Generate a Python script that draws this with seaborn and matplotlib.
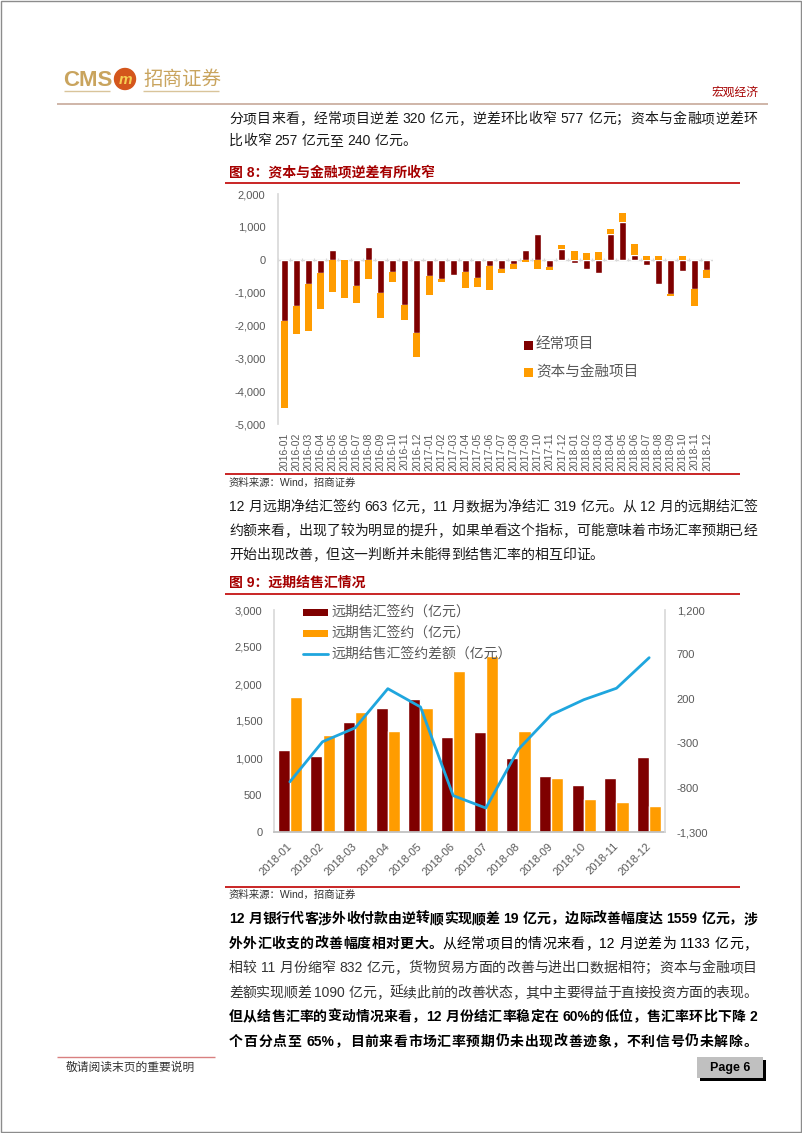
"""
plot.py
=======
Page 6 of the CMS macro report: balance-of-payments stacked bars (fig 8)
and forward FX settlement / sale bars with net line (fig 9).
"""

import re

import matplotlib
matplotlib.use("Agg")
import matplotlib.pyplot as plt
from matplotlib.patches import Circle, Rectangle
import numpy as np
import pandas as pd
import seaborn as sns

W, H = 802, 1133

# ---- data: figure 8 (亿元) ----
months_bop = [
    "2016-01", "2016-02", "2016-03", "2016-04", "2016-05", "2016-06",
    "2016-07", "2016-08", "2016-09", "2016-10", "2016-11", "2016-12",
    "2017-01", "2017-02", "2017-03", "2017-04", "2017-05", "2017-06",
    "2017-07", "2017-08", "2017-09", "2017-10", "2017-11", "2017-12",
    "2018-01", "2018-02", "2018-03", "2018-04", "2018-05", "2018-06",
    "2018-07", "2018-08", "2018-09", "2018-10", "2018-11", "2018-12",
]
current_account = [
    -1870, -1414, -727, -404, 303, 10, -788, 384, -1020, -384, -1364, -2242,
    -505, -576, -455, -384, -556, -182, -283, -121, 303, 778, -222, 323,
    -101, -283, -404, 768, 1152, 131, -162, -748, -1040, -354, -897, -320,
]
capital_financial = [
    -2655, -859, -1445, -1081, -980, -1150, -515, -586, -748, -283, -475, -718,
    -556, -101, 0, -485, -283, -727, -121, -152, -81, -283, -81, 121,
    263, 202, 242, 152, 273, 333, 121, 111, -51, 101, -497, -240,
]
bop_ticks = [2000, 1000, 0, -1000, -2000, -3000, -4000, -5000]

# ---- data: figure 9 (亿元) ----
months_fx = [
    "2018-01", "2018-02", "2018-03", "2018-04", "2018-05", "2018-06",
    "2018-07", "2018-08", "2018-09", "2018-10", "2018-11", "2018-12",
]
fx_settle = [1104, 1027, 1491, 1680, 1793, 1284, 1351, 1000, 752, 635, 725, 1014]
fx_sale = [1829, 1311, 1617, 1365, 1680, 2171, 2378, 1369, 734, 446, 405, 351]
fx_net = [-735, -284, -127, 314, 108, -890, -1030, -368, 19, 190, 319, 663]
fx_left_ticks = [0, 500, 1000, 1500, 2000, 2500, 3000]
fx_right_ticks = [-1300, -800, -300, 200, 700, 1200]

# ---- colours ----
DARK = "#7f0000"
ORANGE = "#ff9c00"
BLUE = "#1fa6de"
GRAY = "#595959"
RED_LINE = "#c00000"
TITLE_RED = "#a50000"
GOLD = "#c9a45e"
TEXT = "#1a1a1a"

sns.set_theme(style="white")
plt.rcParams["font.family"] = ["Liberation Sans", "Noto Sans CJK SC", "DejaVu Sans"]
plt.rcParams["axes.unicode_minus"] = False

fig = plt.figure(figsize=(W / 100, H / 100), dpi=100)
fig.patch.set_facecolor("white")
renderer = fig.canvas.get_renderer()


def px_axes(left, top, right, bottom):
    return fig.add_axes([left / W, 1 - bottom / H, (right - left) / W, (bottom - top) / H])


# overlay for page furniture and text
page = fig.add_axes([0, 0, 1, 1], zorder=5)
page.set_xlim(0, W)
page.set_ylim(H, 0)
page.axis("off")

TOKEN = re.compile(r"[A-Za-z0-9%.]+|.")


def draw_line(segments, y, x0=229, x1=757, justify=True, size=10, color=TEXT):
    """Lay a line out token by token, spreading the slack so it fills x0..x1."""
    items = []
    for text, weight in segments:
        for tok in TOKEN.findall(text):
            if tok.isspace():
                items.append((None, 0.28 * size * 100 / 72))
                continue
            t = page.text(0, y, tok, fontsize=size, fontweight=weight,
                          va="center", ha="left", color=color)
            items.append((t, t.get_window_extent(renderer).width))
    total = sum(w for _, w in items)
    gap = (x1 - x0 - total) / (len(items) - 1) if justify and len(items) > 1 else 0
    x = x0
    for t, w in items:
        if t is not None:
            t.set_x(x)
        x += w + gap


def hline(y, x0, x1, color, lw=1.0):
    page.plot([x0, x1], [y, y], color=color, lw=lw, solid_capstyle="butt")


# ---- page frame / header ----
page.add_patch(Rectangle((0.5, 0.5), W - 1.5, H - 1.5, fill=False, ec="#8c8c8c", lw=1))
page.text(63, 80, "CMS", fontsize=16, fontweight="bold", color=GOLD, va="center", ha="left")
page.add_patch(Circle((125, 79), 10.5, color="#d4561c"))
page.text(125, 79.5, "m", fontsize=11, fontweight="bold", style="italic",
          color="#f6cf52", va="center", ha="center")
page.text(143, 80, "招商证券", fontsize=14, color=GOLD, va="center", ha="left")
hline(90.5, 64, 110, "#d9c49a", 1)
hline(90.5, 143, 219, "#d9c49a", 1)
page.text(758, 93, "宏观经济", fontsize=8.5, color=TITLE_RED, va="center", ha="right")
hline(103.5, 57, 768, "#c7a99a", 1.2)

# ---- paragraph 1 ----
draw_line([("分项目来看，经常项目逆差 320 亿元，逆差环比收窄 577 亿元；资本与金融项逆差环", "normal")], 119)
draw_line([("比收窄 257 亿元至 240 亿元。", "normal")], 141, justify=False)

# ---- figure 8 ----
page.text(229, 172, "图 8：资本与金融项逆差有所收窄", fontsize=10, fontweight="bold",
          color=TITLE_RED, va="center", ha="left")
hline(183, 225, 740, RED_LINE, 1.2)

ax1 = px_axes(278, 194, 713, 424)
ax1.set_facecolor("none")
cur = np.array(current_account, dtype=float)
cap = np.array(capital_financial, dtype=float)
xpos = np.arange(len(months_bop))
cap_bottom = np.where(cap >= 0, np.maximum(cur, 0), np.minimum(cur, 0))
sns.barplot(x=months_bop, y=cur, color=DARK, saturation=1, width=0.58,
            errorbar=None, ax=ax1)
ax1.bar(xpos, cap, bottom=cap_bottom, width=0.58, color=ORANGE, linewidth=0)
ax1.axhline(0, color="#d9d9d9", lw=1, zorder=0.5)
ax1.vlines(np.arange(-0.5, len(months_bop)), -45, 45, color="#d9d9d9", lw=0.8)
ax1.set_xlim(-0.5, len(months_bop) - 0.5)
ax1.set_ylim(-5000, 2000)
ax1.set_yticks(bop_ticks)
ax1.set_yticklabels([f"{v:,}" for v in bop_ticks], fontsize=8, color=GRAY)
ax1.set_xticks(xpos)
ax1.set_xticklabels(months_bop, rotation=90, fontsize=7.5, color=GRAY)
ax1.tick_params(axis="y", length=0, pad=9)
ax1.tick_params(axis="x", length=0, pad=6)
ax1.set_xlabel("")
ax1.set_ylabel("")
for side in ["top", "right", "bottom"]:
    ax1.spines[side].set_visible(False)
ax1.spines["left"].set_color("#d9d9d9")

# legend of figure 8
for yy, label, col in [(345, "经常项目", DARK), (372, "资本与金融项目", ORANGE)]:
    page.add_patch(Rectangle((524, yy - 4.5), 9, 9, color=col, lw=0))
    page.text(536, yy, label, fontsize=10.5, color=GRAY, va="center", ha="left")

hline(474, 225, 740, RED_LINE, 1.2)
page.text(229, 483, "资料来源：Wind，招商证券", fontsize=7.5, color="#333333", va="center", ha="left")

# ---- paragraph 2 ----
draw_line([("12 月远期净结汇签约 663 亿元，11 月数据为净结汇 319 亿元。从 12 月的远期结汇签", "normal")], 507)
draw_line([("约额来看，出现了较为明显的提升，如果单看这个指标，可能意味着市场汇率预期已经", "normal")], 531)
draw_line([("开始出现改善，但这一判断并未能得到结售汇率的相互印证。", "normal")], 555, justify=False)

# ---- figure 9 ----
page.text(229, 583, "图 9：远期结售汇情况", fontsize=10, fontweight="bold",
          color=TITLE_RED, va="center", ha="left")
hline(594, 225, 740, RED_LINE, 1.2)

ax2 = px_axes(273.5, 610, 665.5, 832)
ax2.set_facecolor("none")
fx_df = pd.DataFrame({
    "month": months_fx * 2,
    "value": fx_settle + fx_sale,
    "series": ["远期结汇签约（亿元）"] * len(months_fx) + ["远期售汇签约（亿元）"] * len(months_fx),
})
sns.barplot(data=fx_df, x="month", y="value", hue="series", palette=[DARK, ORANGE],
            saturation=1, width=0.74, gap=0, errorbar=None, legend=False, ax=ax2)
ax2.set_xlim(-0.5, len(months_fx) - 0.5)
ax2.set_ylim(0, 3000)
ax2.set_yticks(fx_left_ticks)
ax2.set_yticklabels([f"{v:,}" for v in fx_left_ticks], fontsize=8, color=GRAY)
ax2.set_xticks(np.arange(len(months_fx)))
ax2.set_xticklabels(months_fx, rotation=45, ha="right", va="center",
                    rotation_mode="anchor", fontsize=8, color=GRAY)
ax2.set_xticks(np.arange(-0.5, len(months_fx)), minor=True)
ax2.tick_params(axis="x", which="major", length=0, pad=9)
ax2.tick_params(axis="x", which="minor", length=3, color="#bfbfbf", width=0.8, direction="out")
ax2.tick_params(axis="y", length=0, pad=8)
ax2.set_xlabel("")
ax2.set_ylabel("")
ax2.spines["top"].set_visible(False)
ax2.spines["right"].set_visible(False)
ax2.spines["left"].set_color("#d9d9d9")
ax2.spines["bottom"].set_color("#bfbfbf")

ax2r = ax2.twinx()
ax2r.set_facecolor("none")
sns.lineplot(x=np.arange(len(months_fx)), y=fx_net, color=BLUE, linewidth=2, ax=ax2r)
ax2r.set_xlim(-0.5, len(months_fx) - 0.5)
ax2r.set_ylim(-1300, 1200)
ax2r.set_yticks(fx_right_ticks)
ax2r.set_yticklabels([f"{v:,}" for v in fx_right_ticks], fontsize=8, color=GRAY)
ax2r.tick_params(axis="y", length=0, pad=8)
ax2r.set_ylabel("")
for side in ["top", "left", "bottom"]:
    ax2r.spines[side].set_visible(False)
ax2r.spines["right"].set_color("#d9d9d9")

# legend of figure 9
for yy, label, col, kind in [
    (612, "远期结汇签约（亿元）", DARK, "bar"),
    (633, "远期售汇签约（亿元）", ORANGE, "bar"),
    (654, "远期结售汇签约差额（亿元）", BLUE, "line"),
]:
    if kind == "bar":
        page.add_patch(Rectangle((303, yy - 3.5), 25, 7, color=col, lw=0))
    else:
        page.plot([303, 328], [yy, yy], color=col, lw=2)
    page.text(331, yy, label, fontsize=10, color=GRAY, va="center", ha="left")

hline(887, 225, 740, RED_LINE, 1.2)
page.text(229, 895, "资料来源：Wind，招商证券", fontsize=7.5, color="#333333", va="center", ha="left")

# ---- paragraph 3 ----
BODY2 = "#333333"
draw_line([("12 月银行代客涉外收付款由逆转顺实现顺差 19 亿元，边际改善幅度达 1559 亿元，涉", "bold")], 919, color="#000000")
draw_line([("外外汇收支的改善幅度相对更大。", "bold"),
           ("从经常项目的情况来看，12 月逆差为 1133 亿元，", "normal")], 944, color="#000000")
draw_line([("相较 11 月份缩窄 832 亿元，货物贸易方面的改善与进出口数据相符；资本与金融项目", "normal")], 968, color=BODY2)
draw_line([("差额实现顺差 1090 亿元，延续此前的改善状态，其中主要得益于直接投资方面的表现。", "normal")], 993, color=BODY2)
draw_line([("但从结售汇率的变动情况来看，12 月份结汇率稳定在 60%的低位，售汇率环比下降 2", "bold")], 1017, color="#000000")
draw_line([("个百分点至 65%，目前来看市场汇率预期仍未出现改善迹象，不利信号仍未解除。", "bold")], 1042, color="#000000")

# ---- footer ----
hline(1057, 57, 215, "#d98080", 1)
page.text(66, 1068, "敬请阅读末页的重要说明", fontsize=8.5, color="#333333", va="center", ha="left")
page.add_patch(Rectangle((700, 1060), 66, 21, color="#000000", lw=0))
page.add_patch(Rectangle((697, 1057), 66, 21, color="#c0c0c0", lw=0))
page.text(730, 1067.5, "Page 6", fontsize=9, fontweight="bold", color="#000000",
          va="center", ha="center")

fig.savefig("out.png", dpi=100)
plt.close(fig)
